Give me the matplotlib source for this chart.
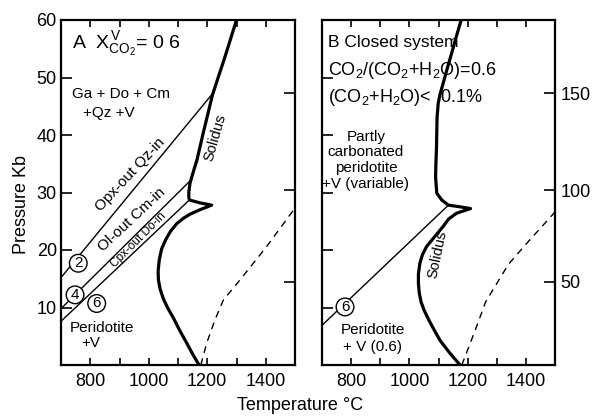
import matplotlib.pyplot as plt
from matplotlib.ticker import MultipleLocator

plt.rcParams['font.family'] = ['Liberation Sans', 'DejaVu Sans']
plt.rcParams['mathtext.fontset'] = 'custom'
plt.rcParams['mathtext.rm'] = 'Liberation Sans'
plt.rcParams['mathtext.it'] = 'Liberation Sans'

# ---- panel A data (T in deg C, P in kb) ----
solidus_a_T = [1300, 1260, 1218, 1186, 1165, 1150, 1141, 1137, 1137, 1139, 1175, 1215,
               1175, 1140, 1118, 1096, 1075, 1058, 1044, 1036, 1032, 1033, 1039, 1050,
               1065, 1084, 1106, 1130, 1150, 1172]
solidus_a_P = [60, 53.5, 47, 40.3, 35.7, 33.2, 31.6, 30.1, 29.2, 28.7, 28.2, 27.8,
               27.0, 26.2, 25.5, 24.6, 23.3, 21.8, 20.2, 18.3, 16.3, 14.8, 13.2, 11.5,
               9.9, 8.2, 6.0, 3.8, 1.9, 0]

opx_T = [700, 1215]
opx_P = [15.2, 47]
ol_T = [700, 1141]
ol_P = [9.8, 32.0]
cpx_T = [700, 1139]
cpx_P = [7.6, 28.7]

dash_a_T = [1178, 1198, 1226, 1255, 1312, 1403, 1500]
dash_a_P = [0, 3.8, 7.8, 11.3, 14.8, 20.6, 27.3]

# ---- panel B data ----
solidus_b_T = [1178, 1161, 1145, 1128, 1116, 1105, 1099, 1095, 1094, 1093, 1091, 1090,
               1094, 1111, 1134, 1175, 1210,
               1162, 1135, 1116, 1085, 1059, 1045, 1036, 1031, 1031, 1034, 1040, 1050,
               1065, 1085, 1105, 1140, 1174]
solidus_b_P = [60, 57.1, 54.2, 51.2, 49, 47, 45.5, 43, 40.3, 37.5, 35, 32.7,
               29.9, 28.7, 27.8, 27.5, 27.2,
               26.4, 25.4, 24.1, 22.2, 20.6, 19.2, 17.7, 15.8, 14.2, 12.5, 11.0, 9.6,
               8.0, 6.1, 4.3, 2.0, 0]

six_T = [700, 1134]
six_P = [6.9, 27.8]

dash_b_T = [1180, 1222, 1262, 1340, 1400, 1500]
dash_b_P = [0, 5.5, 11, 17.5, 21, 26.6]

# depth scale on the right
depth_km = [50, 100, 150]
depth_kb = [14.5, 30.4, 47.3]

fig = plt.figure(figsize=(6.01, 4.17), dpi=100)
axA = fig.add_axes([61 / 601, 52 / 417, 234 / 601, 345 / 417])
axB = fig.add_axes([322 / 601, 52 / 417, 233 / 601, 345 / 417])

for ax in (axA, axB):
    ax.set_xlim(700, 1500)
    ax.set_ylim(0, 60)
    ax.xaxis.set_major_locator(MultipleLocator(200))
    ax.xaxis.set_minor_locator(MultipleLocator(100))
    ax.yaxis.set_major_locator(MultipleLocator(10))
    ax.tick_params(axis='x', which='both', direction='in', top=True, length=5, width=1.2, labelsize=13, pad=6)
    ax.tick_params(axis='y', which='major', direction='in', length=8, width=1.2, labelsize=13, pad=3)
    ax.set_xticks([800, 1000, 1200, 1400])
    ax.set_xticklabels(['800', '1000', '1200', '1400'])
    for s in ax.spines.values():
        s.set_linewidth(1.6)
    # depth ticks on the right side
    r = ax.twinx()
    r.set_ylim(0, 60)
    r.set_yticks(depth_kb)
    r.tick_params(direction='in', length=8, width=1.2, labelsize=13, pad=4)
    if ax is axA:
        r.set_yticklabels([])
    else:
        r.set_yticklabels([str(d) for d in depth_km])
    for s in r.spines.values():
        s.set_visible(False)

axA.set_yticks([10, 20, 30, 40, 50, 60])
axB.set_yticklabels([])

# ---- panel A ----
axA.plot(solidus_a_T, solidus_a_P, color='black', lw=2.3, solid_joinstyle='round')
axA.plot(opx_T, opx_P, color='black', lw=1.0)
axA.plot(ol_T, ol_P, color='black', lw=1.0)
axA.plot(cpx_T, cpx_P, color='black', lw=1.0)
axA.plot(dash_a_T, dash_a_P, color='black', lw=1.0, dashes=(5, 4))

axA.text(738, 56, r'A  $X^{\rm V}_{\rm CO_2}$= 0 6', fontsize=14, va='center')
axA.text(905, 47.1, 'Ga + Do + Cm', fontsize=11, ha='center', va='center')
axA.text(864, 43.8, '+Qz +V', fontsize=11, ha='center', va='center')
axA.text(938, 33.2, 'Opx-out Qz-in', fontsize=11, ha='center', va='center', rotation=47)
axA.text(942, 25.3, 'Ol-out Cm-in', fontsize=11, ha='center', va='center', rotation=43)
axA.text(966, 21.8, 'Cpx-out Do-in', fontsize=8.5, ha='center', va='center', rotation=45)
axA.text(1228, 39.5, 'Solidus', fontsize=10.5, ha='center', va='center', rotation=74)
axA.text(840, 6.4, 'Peridotite', fontsize=11, ha='center', va='center')
axA.text(800, 3.9, '+V', fontsize=11, ha='center', va='center')
circ = dict(boxstyle='circle,pad=0.12', fc='white', ec='black', lw=1.0)
axA.text(759, 17.7, '2', fontsize=11, ha='center', va='center', bbox=circ)
axA.text(748, 12.2, '4', fontsize=11, ha='center', va='center', bbox=circ)
axA.text(822, 10.7, '6', fontsize=11, ha='center', va='center', bbox=circ)

# ---- panel B ----
axB.plot(solidus_b_T, solidus_b_P, color='black', lw=2.3, solid_joinstyle='round')
axB.plot(six_T, six_P, color='black', lw=1.0)
axB.plot(dash_b_T, dash_b_P, color='black', lw=1.0, dashes=(5, 4))

axB.text(720, 56, 'B Closed system', fontsize=12.5, va='center')
axB.text(720, 51.2, r'CO$_2$/(CO$_2$+H$_2$O)=0.6', fontsize=13, va='center')
axB.text(720, 46.6, r'(CO$_2$+H$_2$O)<  0.1%', fontsize=13, va='center')
axB.text(851, 35.6, 'Partly\ncarbonated\nperidotite\n+V (variable)', fontsize=11,
         ha='center', va='center', linespacing=1.15)
axB.text(875, 6.1, 'Peridotite', fontsize=11, ha='center', va='center')
axB.text(875, 3.2, '+ V (0.6)', fontsize=11, ha='center', va='center')
axB.text(1098, 19.3, 'Solidus', fontsize=10.5, ha='center', va='center', rotation=78)
axB.text(779, 10.1, '6', fontsize=11, ha='center', va='center', bbox=circ)

fig.text(22 / 601, 0.51, 'Pressure Kb', rotation=90, fontsize=13, ha='center', va='center')
fig.text(300 / 601, 12 / 417, 'Temperature °C', fontsize=13, ha='center', va='center')

fig.savefig('out.png', dpi=100)
